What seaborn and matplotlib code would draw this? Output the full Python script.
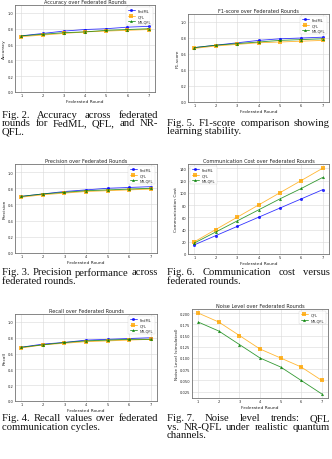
import matplotlib
matplotlib.use("Agg")
import matplotlib.pyplot as plt
import seaborn as sns
import pandas as pd

rounds = [1, 2, 3, 4, 5, 6, 7]
methods = ["FedML", "QFL", "NR-QFL"]

accuracy_fedml = [0.71, 0.74, 0.77, 0.79, 0.80, 0.82, 0.83]
accuracy_qfl = [0.70, 0.72, 0.74, 0.76, 0.77, 0.78, 0.79]
accuracy_nrqfl = [0.71, 0.73, 0.75, 0.76, 0.78, 0.79, 0.80]

f1_fedml = [0.68, 0.71, 0.74, 0.77, 0.79, 0.80, 0.81]
f1_qfl = [0.67, 0.70, 0.72, 0.74, 0.75, 0.76, 0.77]
f1_nrqfl = [0.68, 0.71, 0.73, 0.75, 0.77, 0.78, 0.79]

precision_fedml = [0.70, 0.73, 0.76, 0.78, 0.80, 0.81, 0.82]
precision_qfl = [0.69, 0.72, 0.74, 0.76, 0.77, 0.78, 0.79]
precision_nrqfl = [0.70, 0.73, 0.75, 0.77, 0.78, 0.79, 0.80]

recall_fedml = [0.68, 0.72, 0.74, 0.77, 0.78, 0.79, 0.80]
recall_qfl = [0.67, 0.71, 0.73, 0.75, 0.76, 0.77, 0.78]
recall_nrqfl = [0.68, 0.71, 0.74, 0.76, 0.77, 0.78, 0.78]

comm_fedml = [15, 30, 45, 60, 75, 90, 105]
comm_qfl = [20, 40, 60, 80, 100, 120, 140]
comm_nrqfl = [18, 36, 54, 72, 90, 107, 125]

noise_qfl = [0.20, 0.18, 0.15, 0.12, 0.10, 0.08, 0.05]
noise_nrqfl = [0.18, 0.16, 0.13, 0.10, 0.08, 0.05, 0.02]

titles = ["Accuracy over Federated Rounds", "F1-score over Federated Rounds",
          "Precision over Federated Rounds", "Communication Cost over Federated Rounds",
          "Recall over Federated Rounds", "Noise Level over Federated Rounds"]
ylabels = ["Accuracy", "F1-score", "Precision", "Communication Cost",
           "Recall", "Noise Level (simulated)"]

captions = {
    "fig2": ["Fig. 2.  Accuracy across federated", "rounds for FedML, QFL, and NR-", "QFL."],
    "fig5": ["Fig. 5. F1-score comparison showing", "learning stability."],
    "fig3": ["Fig. 3. Precision performance across", "federated rounds."],
    "fig6": ["Fig. 6.  Communication cost versus", "federated rounds."],
    "fig4": ["Fig. 4. Recall values over federated", "communication cycles."],
    "fig7": ["Fig. 7.  Noise level trends: QFL", "vs. NR-QFL under realistic quantum", "channels."],
}

sns.set_style("whitegrid", {"axes.edgecolor": "0.45", "grid.color": "0.85"})
plt.rcParams["font.family"] = ["DejaVu Sans"]

palette = {"FedML": "blue", "QFL": "orange", "NR-QFL": "green"}
markers = {"FedML": "o", "QFL": "s", "NR-QFL": "^"}

W, H = 332, 460
fig = plt.figure(figsize=(W / 100, H / 100), dpi=100)


def add_ax(l, t, r, b):
    return fig.add_axes([l / W, 1 - b / H, (r - l) / W, (b - t) / H])


def make_df(series):
    rows = []
    for name, vals in series.items():
        for x, v in zip(rounds, vals):
            rows.append({"Round": x, "Method": name, "Value": v})
    return pd.DataFrame(rows)


def draw(ax, series, title, ylabel, ylim=None, legend_loc="upper right"):
    df = make_df(series)
    names = list(series.keys())
    sns.lineplot(data=df, x="Round", y="Value", hue="Method", style="Method",
                 palette={k: palette[k] for k in names},
                 markers={k: markers[k] for k in names}, dashes=False,
                 linewidth=0.6, markersize=2.2, markeredgewidth=0, alpha=0.8,
                 ax=ax)
    ax.set_title(title, fontsize=3.6, pad=1.5)
    ax.set_xlabel("Federated Round", fontsize=3.2, labelpad=1)
    ax.set_ylabel(ylabel, fontsize=3.2, labelpad=1)
    ax.set_xticks(rounds)
    ax.tick_params(labelsize=2.6, pad=1, length=0)
    if ylim is not None:
        ax.set_ylim(*ylim)
    for s in ax.spines.values():
        s.set_linewidth(0.6)
    ax.grid(linewidth=0.4)
    leg = ax.legend(loc=legend_loc, fontsize=2.6, frameon=True, handlelength=2,
                    borderpad=0.5, labelspacing=0.4)
    leg.get_frame().set_linewidth(0.3)


ax1 = add_ax(15, 6, 155, 93)
draw(ax1, {"FedML": accuracy_fedml, "QFL": accuracy_qfl, "NR-QFL": accuracy_nrqfl},
     titles[0], ylabels[0], (0, 1.1))
ax2 = add_ax(188, 15, 329, 103)
draw(ax2, {"FedML": f1_fedml, "QFL": f1_qfl, "NR-QFL": f1_nrqfl},
     titles[1], ylabels[1], (0, 1.1))
ax3 = add_ax(15, 165, 157, 254)
draw(ax3, {"FedML": precision_fedml, "QFL": precision_qfl, "NR-QFL": precision_nrqfl},
     titles[2], ylabels[2], (0, 1.1))
ax4 = add_ax(188, 165, 329, 255)
draw(ax4, {"FedML": comm_fedml, "QFL": comm_qfl, "NR-QFL": comm_nrqfl},
     titles[3], ylabels[3], (0, 147), legend_loc="upper left")
ax5 = add_ax(15, 315, 157, 402)
draw(ax5, {"FedML": recall_fedml, "QFL": recall_qfl, "NR-QFL": recall_nrqfl},
     titles[4], ylabels[4], (0, 1.1))
ax6 = add_ax(192, 310, 328, 399)
draw(ax6, {"QFL": noise_qfl, "NR-QFL": noise_nrqfl}, titles[5], ylabels[5])
ax6.set_yticks([0.025, 0.05, 0.075, 0.10, 0.125, 0.15, 0.175, 0.20])
ax6.yaxis.set_major_formatter(matplotlib.ticker.FormatStrFormatter("%.3f"))

renderer = fig.canvas.get_renderer()
CAP_FONT = dict(fontsize=7.7, family=["Liberation Serif", "DejaVu Serif"],
                va="center", ha="left", color="#111111")


def caption(lines, x0, x1, y0, dy=8.3):
    for i, line in enumerate(lines):
        y = 1 - (y0 + i * dy) / H
        justify = i < len(lines) - 1
        if not justify:
            fig.text(x0 / W, y, line, **CAP_FONT)
            continue
        line = line.replace("Fig. ", "Fig.\u00a0")
        words = [w for w in line.split(" ") if w]
        texts = [fig.text(0, y, w, **CAP_FONT) for w in words]
        widths = [t.get_window_extent(renderer).width for t in texts]
        gap = (x1 - x0 - sum(widths)) / (len(words) - 1)
        xpos = x0
        for t, wd in zip(texts, widths):
            t.set_x(xpos / W)
            xpos += wd + gap


caption(captions["fig2"], 2, 158, 115)
caption(captions["fig5"], 167, 330, 123.3)
caption(captions["fig3"], 2, 158, 272.7)
caption(captions["fig6"], 167, 330, 272.7)
caption(captions["fig4"], 2, 158, 419)
caption(captions["fig7"], 167, 330, 419)

fig.savefig("out.png", dpi=100)
